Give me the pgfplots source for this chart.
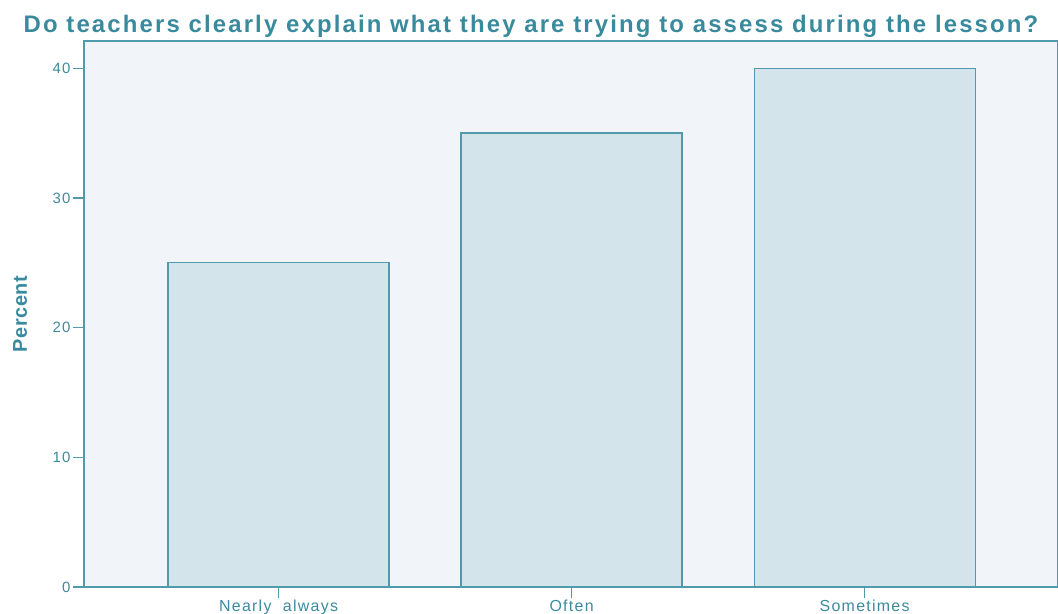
\documentclass[border=0pt]{standalone}
\usepackage{pgfplots}
\pgfplotsset{compat=1.18}
\usepackage{fontspec}
\setmainfont{Liberation Sans}
\newfontfamily\titlefont[LetterSpace=9]{Liberation Sans}
\newfontfamily\ylabfont[LetterSpace=3]{Liberation Sans}
\newfontfamily\labfont[LetterSpace=8]{Liberation Sans}
\definecolor{teal1}{HTML}{3A8A9E}
\definecolor{axcol}{HTML}{4F9AAB}
\definecolor{barfill}{HTML}{D3E5EB}
\definecolor{bgcol}{HTML}{F1F5F9}
\begin{document}
\begin{tikzpicture}
\begin{axis}[name=ax,
  scale only axis, width=974bp, height=546bp,
  xmin=-0.664, xmax=2.66, ymin=0, ymax=42.1,
  axis background/.style={fill=bgcol},
  axis line style={axcol, line width=1.2pt},
  ytick={0,10,20,30,40},
  xtick={0,1,2}, xticklabels={Nearly\ \ always,Often,Sometimes},
  xtick pos=bottom, ytick pos=left,
  tick style={axcol, line width=1.2pt},
  tick align=outside, major tick length=11bp,
  yticklabel style={font=\labfont\fontsize{15}{17}\selectfont, text=teal1!90!gray, xshift=1bp},
  xticklabel style={font=\labfont\fontsize{16}{18}\selectfont, text=teal1, yshift=2bp},
  /pgf/number format/assume math mode=true,
]
\addplot[ybar, bar width=221bp, fill=barfill, draw=axcol, line width=1.2pt]
  coordinates {(0,25) (1,35) (2,40)};
\end{axis}
\node[rotate=90, text=teal1, font=\ylabfont\fontsize{20}{22}\selectfont\bfseries] at ([xshift=-64bp]ax.west) {Percent};
\node[anchor=base, text=teal1, font=\titlefont\fontsize{24}{26}\selectfont\bfseries] at ([shift={(-84bp+531bp,8bp)}]ax.north west) {Do teachers clearly explain what they are trying to assess during the lesson?};
\pgfresetboundingbox
\path[use as bounding box] ([shift={(-84bp,-27bp)}]ax.south west) rectangle ([shift={(0bp,41bp)}]ax.north east);
\end{tikzpicture}
\end{document}
